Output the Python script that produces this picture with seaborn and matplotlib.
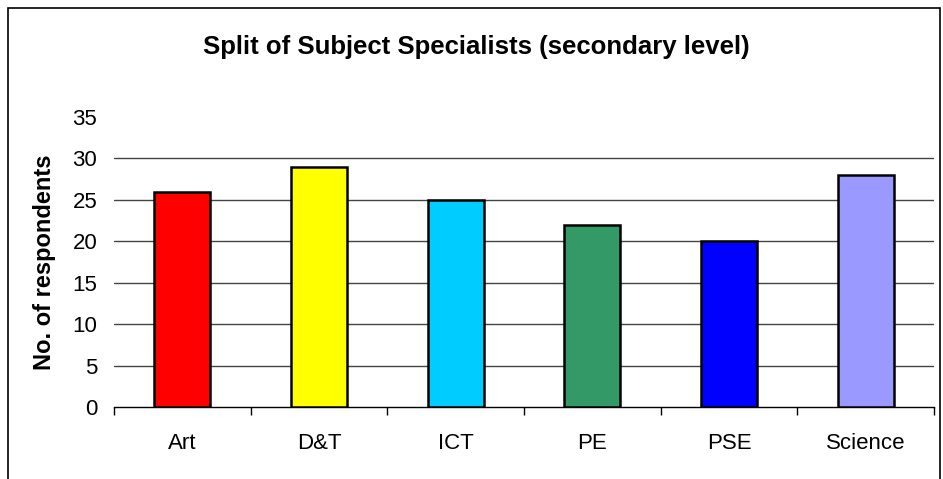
import matplotlib
matplotlib.use("Agg")
import matplotlib.pyplot as plt
import seaborn as sns
import numpy as np
import pandas as pd
from matplotlib.patches import Rectangle
from matplotlib.ticker import FixedLocator

# data
subjects = ['Art', 'D&T', 'ICT', 'PE', 'PSE', 'Science']
respondents = [26, 29, 25, 22, 20, 28]
bar_colors = ['#FF0000', '#FFFF00', '#00CCFF', '#339966', '#0000FF', '#9999FF']
y_ticks = [0, 5, 10, 15, 20, 25, 30, 35]

df = pd.DataFrame({'subject': subjects, 'n': respondents})

sns.set_theme(style='white')
plt.rcParams['font.family'] = ['Liberation Sans', 'DejaVu Sans']
plt.rcParams['text.color'] = 'black'
plt.rcParams['axes.labelcolor'] = 'black'
plt.rcParams['xtick.color'] = 'black'
plt.rcParams['ytick.color'] = 'black'

fig = plt.figure(figsize=(9.43, 4.79), dpi=100)
ax = fig.add_axes([114 / 943, 1 - 407 / 479, (934 - 114) / 943, (407 - 117) / 479])

sns.barplot(data=df, x='subject', y='n', hue='subject', palette=bar_colors,
            legend=False, width=0.41, edgecolor='black', linewidth=1.8,
            saturation=1, ax=ax, zorder=3)

# gridlines (none at the top value)
for v in y_ticks[1:-1]:
    ax.axhline(v, color='#444444', linewidth=1, zorder=1)

ax.set_ylim(0, 35)
ax.set_xlim(-0.5, len(subjects) - 0.5)
ax.set_yticks(y_ticks)
ax.set_yticklabels([str(v) for v in y_ticks], fontsize=16)
ax.tick_params(axis='y', length=0, pad=12)
ax.set_xticks(range(len(subjects)))
ax.set_xticklabels(subjects, fontsize=16)
ax.tick_params(axis='x', which='major', length=0, pad=19)
ax.xaxis.set_minor_locator(FixedLocator(np.arange(-0.5, len(subjects), 1.0)))
ax.tick_params(axis='x', which='minor', bottom=True, length=6, width=1, color='black', direction='out')

for s in ['left', 'top', 'right']:
    ax.spines[s].set_visible(False)
ax.spines['bottom'].set_color('black')
ax.spines['bottom'].set_linewidth(1)

ax.set_xlabel('')
ax.set_ylabel('No. of respondents', fontsize=17, fontweight='bold')
ax.yaxis.set_label_coords(-58 / 820, 0.5)

fig.text(476 / 943, 1 - 47 / 479, 'Split of Subject Specialists (secondary level)',
         ha='center', va='center', fontsize=18.5, fontweight='bold')

# outer chart border (runs off the bottom edge)
fig.patches.append(Rectangle((8 / 943, -0.1), (940 - 8) / 943, 1.1 - 8 / 479,
                             transform=fig.transFigure, fill=False,
                             edgecolor='black', linewidth=1.2))

fig.savefig('out.png', dpi=100, facecolor='white')
